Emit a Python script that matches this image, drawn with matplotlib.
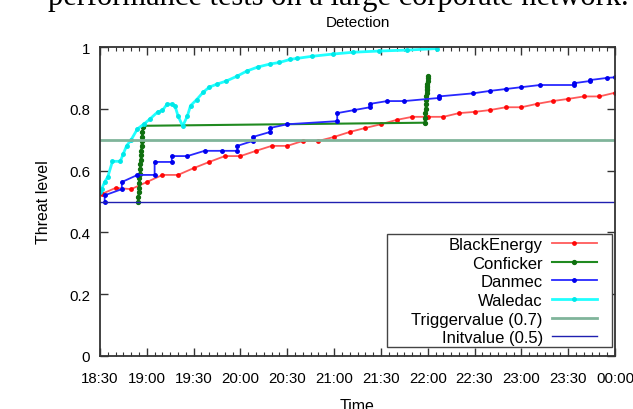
import matplotlib
matplotlib.use("Agg")
import matplotlib.pyplot as plt
from matplotlib.patches import Rectangle
from matplotlib.ticker import MultipleLocator

plt.rcParams['font.family'] = ['Liberation Sans', 'DejaVu Sans']

# time in minutes after 18:30
tick_labels = ['18:30', '19:00', '19:30', '20:00', '20:30', '21:00',
               '21:30', '22:00', '22:30', '23:00', '23:30', '00:00']

be_t = [1, 10, 20, 30, 40, 50, 60, 70, 80, 90, 100, 110, 120, 130, 140, 150,
        160, 170, 180, 190, 200, 210, 220, 230, 240, 250, 260, 270, 280, 290,
        300, 310, 320, 330]
be_v = [0.524, 0.544, 0.54, 0.563, 0.586, 0.586, 0.608, 0.628, 0.647, 0.647,
        0.664, 0.68, 0.68, 0.696, 0.696, 0.709, 0.725, 0.738, 0.75, 0.764,
        0.774, 0.774, 0.774, 0.786, 0.79, 0.796, 0.805, 0.805, 0.816, 0.825,
        0.832, 0.84, 0.84, 0.852]

cf_t = [24.4, 24.6, 24.8, 25.0, 25.2, 25.3, 25.5, 25.7, 25.9, 26.1, 26.2,
        26.4, 26.6, 26.8, 27.0, 27.2, 27.4, 27.6,
        208.0, 208.2, 208.4, 208.6, 208.8, 209.0, 209.2, 209.3, 209.4, 209.5,
        209.6, 209.7, 209.8, 209.9, 210.0, 210.1]
cf_v = [0.50, 0.515, 0.53, 0.545, 0.56, 0.575, 0.59, 0.605, 0.62, 0.635, 0.65,
        0.665, 0.68, 0.695, 0.71, 0.725, 0.74, 0.745,
        0.755, 0.77, 0.785, 0.80, 0.815, 0.83, 0.84, 0.85, 0.86, 0.865,
        0.87, 0.875, 0.88, 0.89, 0.90, 0.905]

dm_t = [3, 3, 14, 14, 24, 35, 35, 46, 46, 56, 67, 78, 88, 88, 98, 98, 109,
        109, 120, 152, 152, 163, 173, 173, 184, 195, 217, 217, 239, 250, 260,
        270, 282, 304, 304, 314, 314, 325, 330]
dm_v = [0.50, 0.52, 0.54, 0.563, 0.586, 0.586, 0.628, 0.628, 0.647, 0.647,
        0.664, 0.664, 0.664, 0.68, 0.696, 0.709, 0.725, 0.738, 0.75, 0.76,
        0.786, 0.796, 0.805, 0.816, 0.825, 0.825, 0.835, 0.84, 0.85, 0.858,
        0.864, 0.87, 0.877, 0.877, 0.883, 0.89, 0.893, 0.9, 0.902]

wd_t = [0, 1, 3, 5, 8, 13, 15, 17, 20, 24, 28, 32, 37, 40, 43, 46, 48, 50,
        53, 56, 58, 62, 66, 70, 75, 81, 88, 94, 101, 109, 115, 122, 126, 136,
        149, 162, 179, 197, 216]
wd_v = [0.53, 0.54, 0.563, 0.58, 0.63, 0.63, 0.655, 0.68, 0.70, 0.735, 0.75,
        0.767, 0.79, 0.795, 0.815, 0.815, 0.81, 0.777, 0.744, 0.777, 0.81,
        0.83, 0.853, 0.87, 0.88, 0.89, 0.906, 0.922, 0.935, 0.945, 0.95, 0.96,
        0.963, 0.97, 0.977, 0.983, 0.987, 0.99, 0.995]

trigger = 0.7
init = 0.5

fig = plt.figure(figsize=(6.33, 4.10), dpi=100)
ax = fig.add_axes([100 / 633, 1 - 357 / 410, 515 / 633, 309 / 410])

ax.plot(be_t, be_v, color='#ff4848', lw=1.3, marker='o', ms=2.5,
        mfc='#ff0000', mec='#ff0000', alpha=0.9, label='BlackEnergy')
ax.plot(cf_t, cf_v, color='#208a20', lw=1.5, marker='o', ms=2.8,
        mfc='#107010', mec='#107010', label='Conficker')
ax.plot(dm_t, dm_v, color='#2828ff', lw=1.3, marker='o', ms=2.5,
        mfc='#0000ee', mec='#0000ee', label='Danmec')
ax.plot(wd_t, wd_v, color='#20ffff', lw=2.0, marker='o', ms=2.5,
        mfc='#00e8e8', mec='#00e8e8', label='Waledac')
ax.axhline(trigger, color='#80b49a', lw=2.0, label='Triggervalue (0.7)')
ax.axhline(init, color='#2020b0', lw=1.0, label='Initvalue (0.5)')

ax.set_xlim(0, 330)
ax.set_ylim(0, 1)
ax.set_xticks(range(0, 331, 30))
ax.set_xticklabels(tick_labels)
ax.xaxis.set_minor_locator(MultipleLocator(5))
ax.set_yticks([0, 0.2, 0.4, 0.6, 0.8, 1])
ax.set_yticklabels(['0', '0.2', '0.4', '0.6', '0.8', '1'])
ax.tick_params(which='both', direction='in', top=True, right=True,
               colors='#333333', labelcolor='black', labelsize=10.8)
ax.tick_params(which='major', length=6, width=1)
ax.tick_params(which='minor', length=3, width=0.8)
ax.tick_params(axis='x', pad=11)
ax.tick_params(axis='y', pad=7)
for s in ax.spines.values():
    s.set_color('#333333')
    s.set_linewidth(1.3)

ax.set_title('Detection', fontsize=11, pad=15)
ax.set_ylabel('Threat level', fontsize=11.5, labelpad=13)
ax.set_xlabel('Time', fontsize=11.5, labelpad=9)

# gnuplot-like key box: wide left margin, entries right-aligned
ax.add_patch(Rectangle((0.557, 0.029), 0.437, 0.366, transform=ax.transAxes,
                       facecolor='white', edgecolor='#444444', lw=1.0,
                       zorder=4.5))
leg = ax.legend(loc='lower right', bbox_to_anchor=(0.965, 0.035),
                borderaxespad=0, markerfirst=False, frameon=False,
                fontsize=12, handlelength=2.7, handletextpad=0.55,
                labelspacing=0.22, borderpad=0)

fig.text(0.534, 1 - 5 / 410, 'performance tests on a large corporate network.',
         fontsize=22, family=['Liberation Serif', 'DejaVu Serif'],
         ha='center', va='baseline')

fig.savefig('out.png', dpi=100)
